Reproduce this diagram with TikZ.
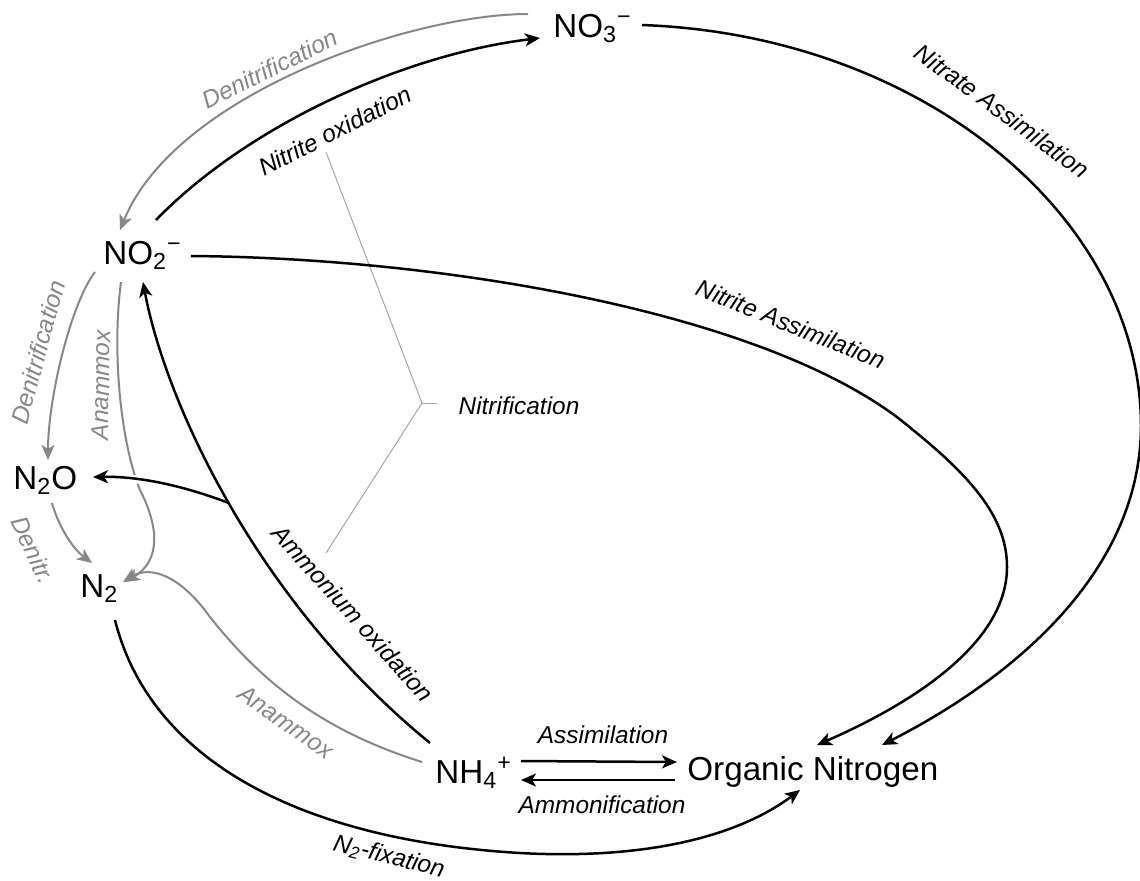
\documentclass[tikz,border=0pt]{standalone}
\usepackage{fontspec}
\setmainfont{Liberation Sans}
\usetikzlibrary{arrows.meta,calc}
\definecolor{grayc}{RGB}{135,135,135}
\definecolor{lightg}{RGB}{165,165,165}
\begin{document}
\begin{tikzpicture}[x=0.5pt,y=-0.5pt,
  spec/.style={inner sep=0pt, anchor=base west, font=\fontsize{16.6}{19}\selectfont},
  lab/.style={inner sep=0pt, font=\fontsize{12.2}{14}\selectfont\itshape},
  glab/.style={lab, text=grayc},
  blk/.style={line width=1.25pt, draw=black},
  gry/.style={line width=1pt, draw=grayc},
  tipb/.style={-{Stealth[length=7.5pt,width=6.5pt,inset=2pt]}},
  tipg/.style={-{Stealth[length=7.5pt,width=6.5pt,inset=2pt]}},
  halo/.style={preaction={draw=white, line width=4pt, arrows=-}}
]
\useasboundingbox (0,0) rectangle (1140,880);

% species
\node[spec] (no3) at (553,37) {NO\textsubscript{3}\textsuperscript{−}};
\node[spec] (no2) at (103,264) {NO\textsubscript{2}\textsuperscript{−}};
\node[spec] (n2o) at (13,489) {N\textsubscript{2}O};
\node[spec] (n2) at (80,597) {N\textsubscript{2}};
\node[spec] (nh4) at (435,783) {NH\textsubscript{4}\textsuperscript{+}};
\node[spec] (org) at (687,780) {Organic Nitrogen};

% gray (denitrification / anammox)
\draw[gry,tipg] ($(no3.base west)+(-25,-23)$) .. controls (410,14) and (175,95) .. ($(no2.base west)+(17,-34)$);
\draw[gry,tipg] ($(no2.base west)+(-8,8)$) .. controls (70,305) and (48,400) .. ($(n2o.base west)+(35,-29)$);
\draw[gry,tipg] ($(no2.base west)+(18,18)$) .. controls (112,350) and (120,440) .. (140,490)
   .. controls (158,525) and (162,560) .. ($(n2.base west)+(45,-15)$);
\draw[gry,tipg] ($(n2o.base west)+(39,14)$) .. controls (58,525) and (72,548) .. ($(n2.base west)+(12,-34)$);
\draw[gry,tipg] ($(nh4.base west)+(-13,-21)$) .. controls (320,730) and (260,680) .. (210,617)
   .. controls (180,575) and (150,565) .. ($(n2.base west)+(43,-15)$);

% nitrification bracket
\coordinate (nj) at (422,403);
\draw[lightg, line width=0.5pt] (326,152) -- (nj) -- (326,553);
\draw[lightg, line width=0.5pt] (nj) -- (437,403);
\node[lab] (nitr) at (519,406) {Nitrification};

% ammonium oxidation with branch to N2O
\path ($(nh4.base west)+(-5,-40)$) .. controls (255,600) and (165,400) .. ($(no2.base west)+(40,18)$) coordinate[pos=0.5] (br);
\draw[blk,tipb,halo] (br) .. controls (200,492) and (150,476) .. ($(n2o.base west)+(80,-12)$);
\draw[blk,tipb] ($(nh4.base west)+(-5,-40)$) .. controls (255,600) and (165,400) .. ($(no2.base west)+(40,18)$);

% black connectors
\draw[blk,tipb] ($(no2.base west)+(53,-44)$) .. controls (245,128) and (400,55) .. ($(no3.base west)+(-13,1)$);
\draw[blk,tipb] ($(no3.base west)+(89,-12)$) .. controls (920,35) and (1140,215) .. (1141,425)
   .. controls (1141,585) and (990,690) .. ($(org.base west)+(195,-35)$);
\draw[blk,tipb] ($(no2.base west)+(88,-8)$) .. controls (450,258) and (780,315) .. (913,430)
   .. controls (975,480) and (1007,520) .. (1007,567)
   .. controls (1007,640) and (920,700) .. ($(org.base west)+(130,-35)$);
\draw[blk,tipb] ($(n2.base west)+(35,23)$) .. controls (150,760) and (300,840) .. (520,853)
   .. controls (650,860) and (740,835) .. ($(org.base west)+(113,10)$);
\draw[blk,tipb] ($(nh4.base west)+(86,-22)$) -- ($(org.base west)+(-10,-18)$);
\draw[blk,tipb] ($(org.base west)+(-12,0)$) -- ($(nh4.base west)+(86,-3)$);

% labels
\node[glab, rotate=26.5] (l1) at (270,69) {Denitrification};
\node[lab, rotate=27] (l2) at (335,131) {Nitrite oxidation};
\node[lab, rotate=-36] (l3) at (1002,111) {Nitrate Assimilation};
\node[lab, rotate=-22] (l4) at (791,324) {Nitrite Assimilation};
\node[glab, rotate=75] (l5) at (38,352) {Denitrification};
\node[glab, rotate=89] (l6) at (101,385) {Anammox};
\node[glab, rotate=-65] (l7) at (33,550) {Denitr.};
\node[lab, rotate=-48] (l8) at (353,613) {Ammonium oxidation};
\node[glab, rotate=-35] (l9) at (286,722) {Anammox};
\node[lab, rotate=-14] (l10) at (389,857) {N\textsubscript{2}-fixation};
\node[lab] (l11) at (603,735) {Assimilation};
\node[lab] (l12) at (602,805) {Ammonification};
\end{tikzpicture}
\end{document}
